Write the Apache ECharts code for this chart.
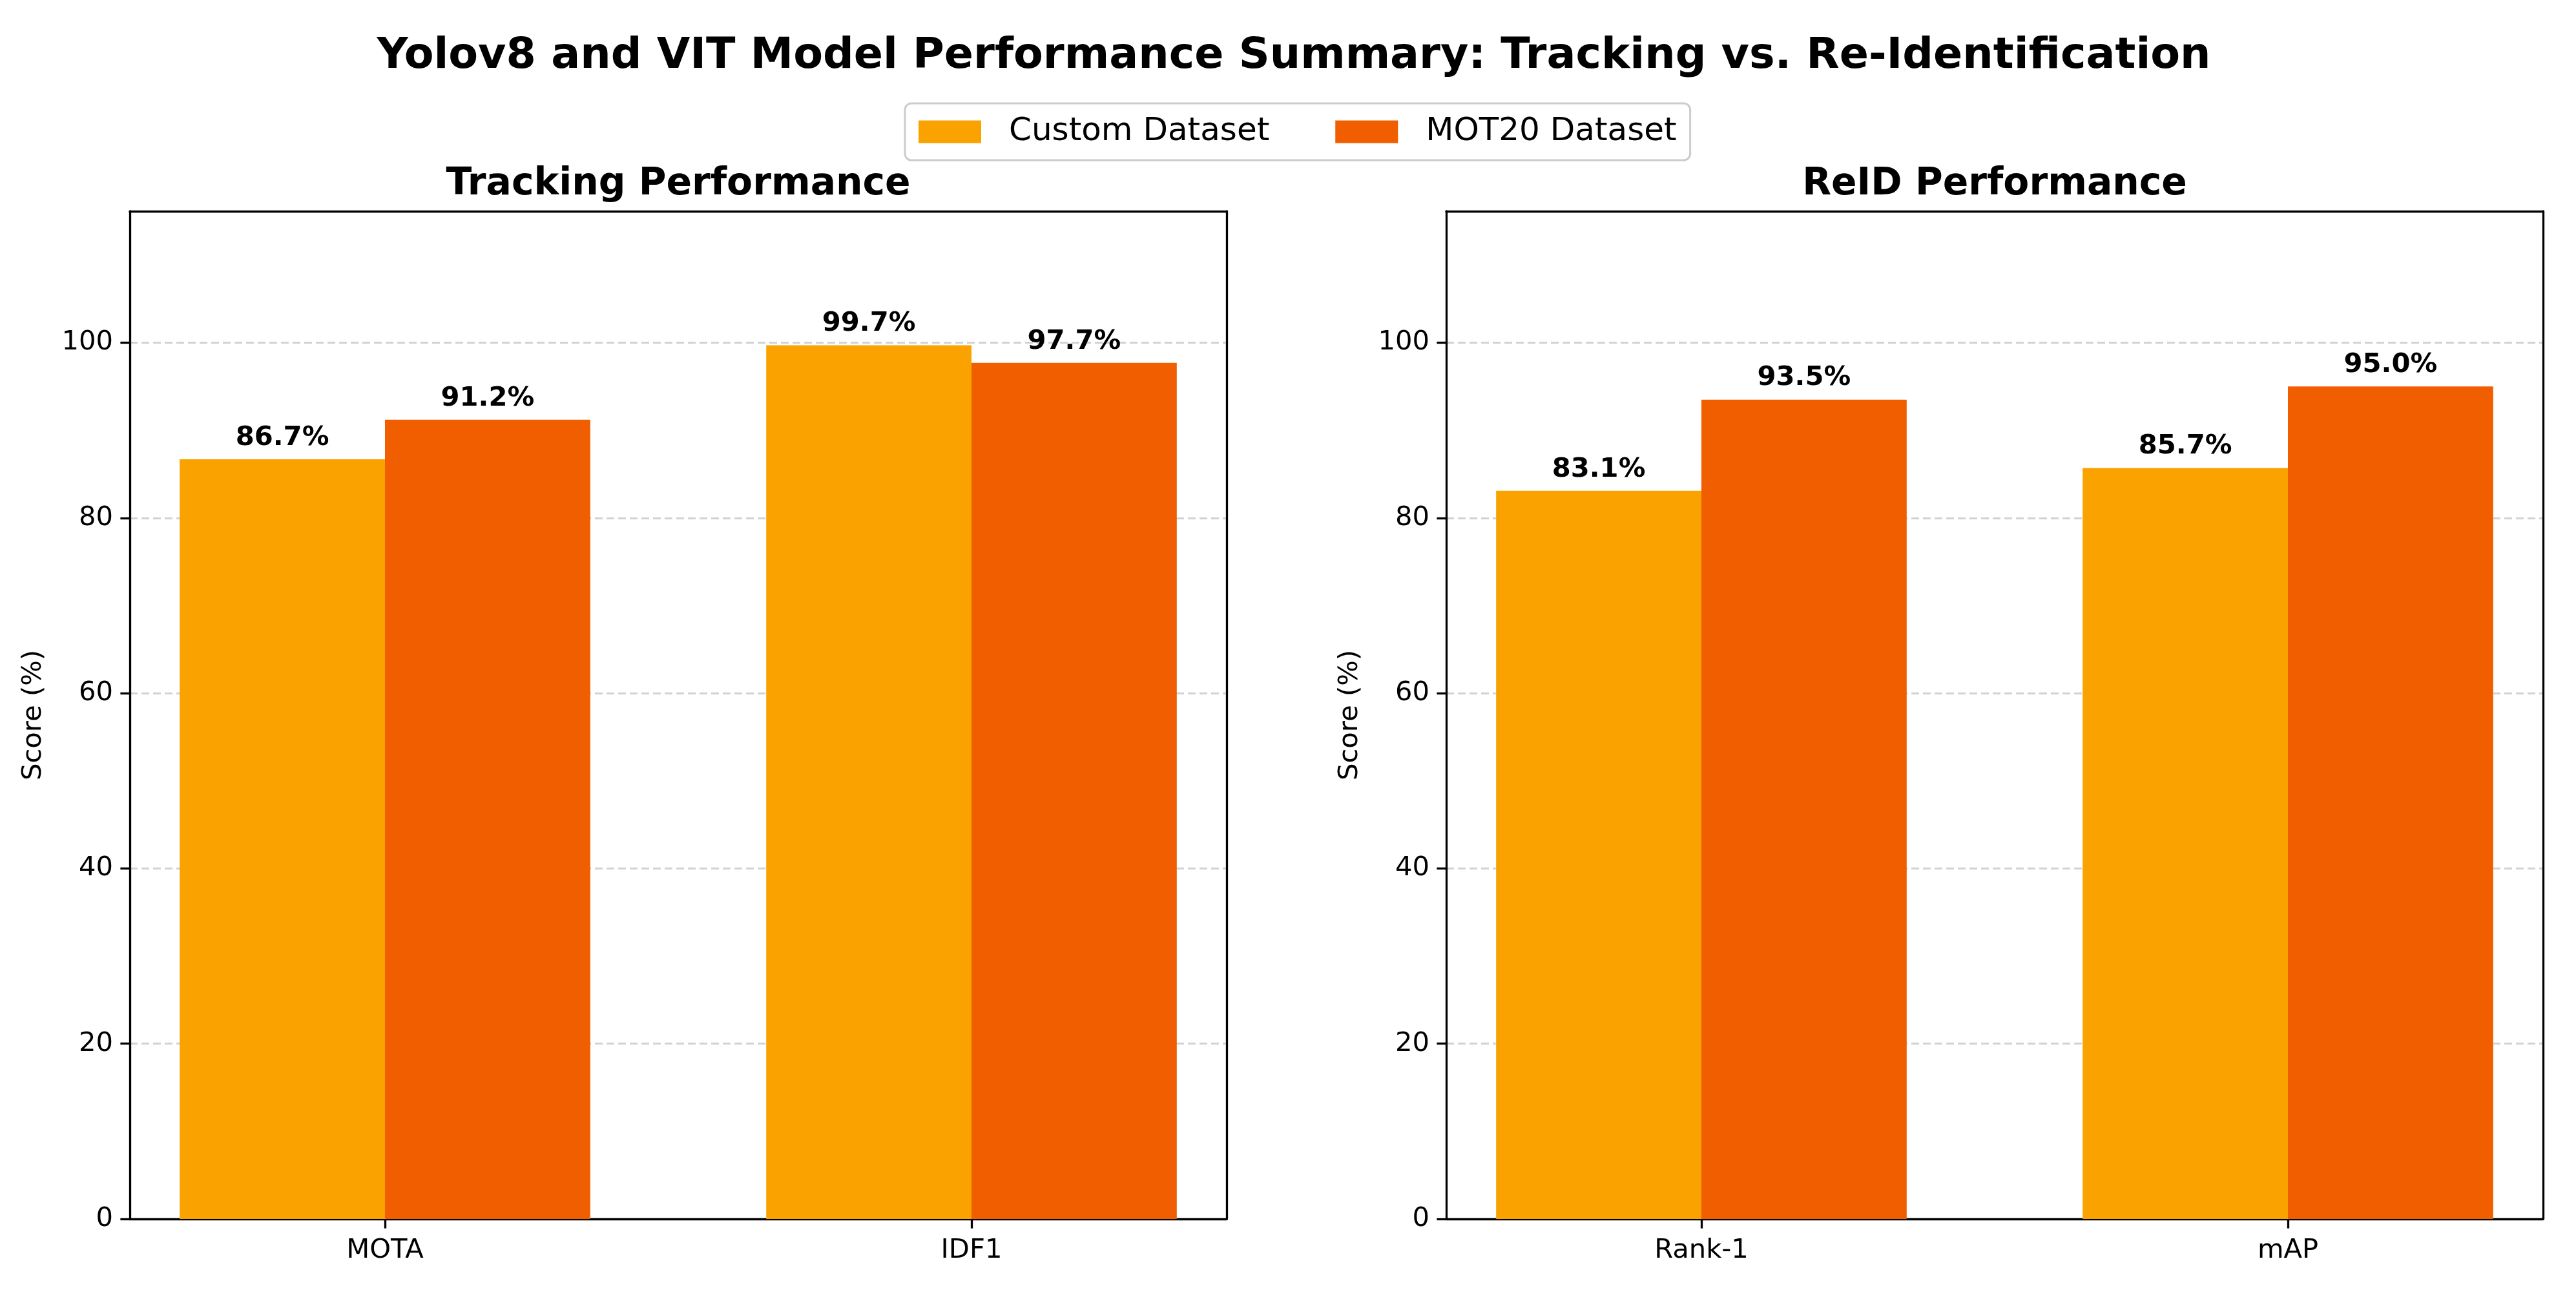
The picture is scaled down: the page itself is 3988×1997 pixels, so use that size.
<!DOCTYPE html>
<html><head><meta charset="utf-8">
<script src="https://cdn.jsdelivr.net/npm/echarts@6/dist/echarts.min.js"></script>
<style>html,body{margin:0;padding:0;background:#fff}#c{width:3988px;height:1997px}</style>
</head><body><div id="c"></div>
<script>
// ---- data ----
const chartTitle = 'Yolov8 and VIT Model Performance Summary: Tracking vs. Re-Identification';
const panelTitles = ['Tracking Performance', 'ReID Performance'];
const seriesNames = ['Custom Dataset', 'MOT20 Dataset'];
const trackingCategories = ['MOTA', 'IDF1'];
const trackingCustom = [86.7, 99.7];
const trackingMOT20 = [91.2, 97.7];
const reidCategories = ['Rank-1', 'mAP'];
const reidCustom = [83.1, 85.7];
const reidMOT20 = [93.5, 95.0];
const yTicks = [0, 20, 40, 60, 80, 100];
const yAxisName = 'Score (%)';

// ---- layout / style ----
const FONT = 'DejaVu Sans';
const colors = ['#FAA200', '#F15E00'];
const gridTop = 327, gridH = 1560, gridW = 1698;
const gridLefts = [201, 2239];
const xMin = -0.435, xMax = 1.435, yMax = 115;
const barW = 0.35 * gridW / (xMax - xMin);
const lineW = 3.3;
const tickFont = 41.7;

const panels = [
  {cats: trackingCategories, vals: [trackingCustom, trackingMOT20]},
  {cats: reidCategories, vals: [reidCustom, reidMOT20]}
];

const grid = [], xAxis = [], yAxis = [], series = [];
const title = [{
  text: chartTitle, left: 2003, top: 54, textAlign: 'center', padding: 0,
  textStyle: {fontFamily: FONT, fontSize: 66.7, fontWeight: 'bold', color: '#000'}
}];

panels.forEach((p, gi) => {
  grid.push({left: gridLefts[gi], top: gridTop, width: gridW, height: gridH, containLabel: false});
  title.push({
    text: panelTitles[gi], left: gridLefts[gi] + gridW / 2, top: 257, textAlign: 'center', padding: 0,
    textStyle: {fontFamily: FONT, fontSize: 58.3, fontWeight: 'bold', color: '#000'}
  });
  xAxis.push({
    gridIndex: gi, type: 'value', position: 'bottom', min: xMin, max: xMax,
    axisLine: {show: true, onZero: false, lineStyle: {color: '#000', width: lineW}},
    axisTick: {show: true, customValues: p.cats.map((c, i) => i), length: 14.6, lineStyle: {color: '#000', width: lineW}},
    axisLabel: {show: true, customValues: p.cats.map((c, i) => i), formatter: v => p.cats[Math.round(v)],
      fontFamily: FONT, fontSize: tickFont, color: '#000', margin: 28},
    splitLine: {show: false}
  });
  xAxis.push({
    gridIndex: gi, type: 'value', position: 'top', min: 0, max: 1,
    axisLine: {show: true, onZero: false, lineStyle: {color: '#000', width: lineW}},
    axisTick: {show: false}, axisLabel: {show: false}, splitLine: {show: false}
  });
  yAxis.push({
    gridIndex: gi, type: 'value', position: 'left', min: 0, max: yMax,
    name: yAxisName, nameLocation: 'middle', nameRotate: 90, nameGap: 128,
    nameTextStyle: {fontFamily: FONT, fontSize: tickFont, color: '#000'},
    axisLine: {show: true, onZero: false, lineStyle: {color: '#000', width: lineW}},
    axisTick: {show: true, customValues: yTicks, length: 14.6, lineStyle: {color: '#000', width: lineW}},
    axisLabel: {show: true, customValues: yTicks, fontFamily: FONT, fontSize: tickFont, color: '#000', margin: 26},
    splitLine: {show: true, lineStyle: {color: '#d2d2d2', width: 3, type: [12, 6]}}
  });
  yAxis.push({
    gridIndex: gi, type: 'value', position: 'right', min: 0, max: 1,
    axisLine: {show: true, onZero: false, lineStyle: {color: '#000', width: lineW}},
    axisTick: {show: false}, axisLabel: {show: false}, splitLine: {show: false}
  });
  p.vals.forEach((vals, si) => {
    series.push({
      name: seriesNames[si], type: 'bar',
      xAxisIndex: gi * 2, yAxisIndex: gi * 2,
      data: vals.map((v, i) => [i, v]),
      barWidth: barW, barGap: '0%',
      itemStyle: {color: colors[si]},
      label: {show: true, position: 'top', distance: 12,
        formatter: d => d.value[1].toFixed(1) + '%',
        fontFamily: FONT, fontSize: 41.7, fontWeight: 'bold', color: '#000'},
      z: 1
    });
  });
});

const chart = echarts.init(document.getElementById('c'), null, {renderer: 'canvas'});
chart.setOption({
  animation: false,
  backgroundColor: '#fff',
  title,
  legend: {
    data: seriesNames, left: 1401, top: 160, orient: 'horizontal',
    padding: [19, 21, 19, 21], itemWidth: 97, itemHeight: 35, itemGap: 102,
    borderColor: '#cccccc', borderWidth: 3, borderRadius: 10,
    icon: 'rect',
    textStyle: {fontFamily: FONT, fontSize: 50, color: '#000', padding: [0, 0, 0, 38]}
  },
  grid, xAxis, yAxis, series
});
</script></body></html>
